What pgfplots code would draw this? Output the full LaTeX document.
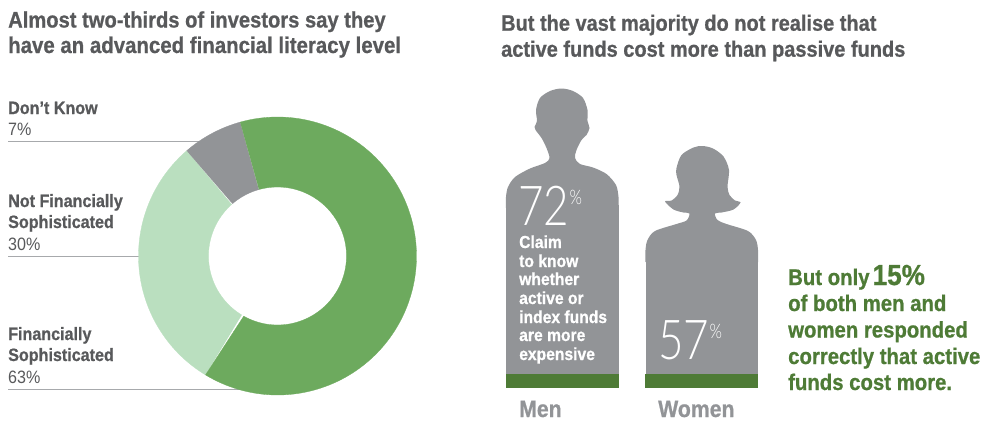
\documentclass[border=0pt]{standalone}
\usepackage{fontspec}
\usepackage{pgfplots}
\usepackage{pgfplotstable}
\pgfplotsset{compat=1.18}
\setmainfont[FakeStretch=0.90, BoldFeatures={FakeBold=0.8}]{Liberation Sans}
\newfontfamily\thinfont[FakeStretch=0.80]{Lato Light}
\definecolor{donutgreen}{HTML}{6DAA5E}
\definecolor{donutlight}{HTML}{BADFBF}
\definecolor{figgray}{HTML}{929497}
\definecolor{bargreen}{HTML}{4E7B36}
\definecolor{inkgray}{HTML}{58595B}
\definecolor{rulegray}{HTML}{A7A9AC}
\definecolor{callgreen}{HTML}{4E7B36}

% Heads and shoulders of the two figures, in page units
\pgfplotstableread{
x y
506 208
506 197
508 187
515 177
530 168.5
545 163
549.5 158
546.5 148
541.5 138
535.5 130
534.5 127
537 121
536 110
540 98
550 91
561.5 88.5
573 91
583 98
587.5 110
587.5 121
589.5 128
586.5 135
581.5 140
576.5 150
575 158
580 164
593 167.5
606.5 174
616 185
618.5 197
618.5 208
}\mantable
\pgfplotstableread{
x y
645.5 262
645.5 250
647.5 240
655 231
676.5 224
686.5 220.5
689.5 213.5
683.5 212.5
673.5 209.5
665 201.5
671.5 200.5
677.5 195
679.5 186.5
676.5 175
676.5 168
681.5 155
693.5 147.5
702.5 146
713 148.5
723.5 156.5
729 170
727.5 186.5
729.5 195
735 200.5
740.5 202.5
733.5 209.5
721.5 212.5
715 213.5
717.5 220
726.5 224
748 231
756 240
758 250
758 262
}\womantable

\newcommand{\ringslice}[3]{%
  % #1 colour, #2 start angle, #3 share in percent, running clockwise
  \addplot[draw=#1, line width=0.3pt, fill=#1, domain=0:2, samples=241, variable=\t]
    ({277.5+(\t<1 ? 139 : 69)*cos(#2-3.6*#3*(\t<1 ? \t : 2-\t))},
     {256-(\t<1 ? 139 : 69)*sin(#2-3.6*#3*(\t<1 ? \t : 2-\t))});%
}
\newcommand{\txt}[4]{\node[anchor=base west, inner sep=0pt, text=#1, font=#2] at (axis cs:#3) {#4};}

\begin{document}
\begin{tikzpicture}
\begin{axis}[
  scale only axis, width=983pt, height=421pt,
  xmin=0, xmax=983, ymin=0, ymax=421, y dir=reverse,
  hide axis, clip=false]
\path[use as bounding box] (axis cs:0,0) rectangle (axis cs:983,421);

% Leader rules under the donut labels
\addplot[rulegray, line width=0.9pt] coordinates {(8,141) (200,141)};
\addplot[rulegray, line width=0.9pt] coordinates {(8,256) (145,256)};
\addplot[rulegray, line width=0.9pt] coordinates {(8,389) (245,389)};

% Donut: 63, 30, 7 per cent clockwise from the top
\ringslice{donutlight}{-121.2}{30}
\ringslice{figgray}{-229.2}{7}
\ringslice{donutgreen}{105.6}{63}

% Figures: outline above, plain body below, green foot
\addplot[draw=none, fill=figgray, smooth, tension=0.5] table[x=x, y=y] {\mantable};
\addplot[draw=none, fill=figgray, smooth, tension=0.5] table[x=x, y=y] {\womantable};
\addplot[draw=none, fill=figgray] coordinates {(506,205) (618.5,205) (618.5,376) (506,376)} -- cycle;
\addplot[draw=none, fill=figgray] coordinates {(645.5,259) (758,259) (758,376) (645.5,376)} -- cycle;
\addplot[draw=none, fill=bargreen] coordinates {(506,374) (619,374) (619,388) (506,388)} -- cycle;
\addplot[draw=none, fill=bargreen] coordinates {(645,374) (758,374) (758,388) (645,388)} -- cycle;

% Headings
\txt{inkgray}{\bfseries\fontsize{22.4}{24}\selectfont}{8,27.5}{Almost two-thirds of investors say they}
\txt{inkgray}{\bfseries\fontsize{22.7}{24}\selectfont}{8,53}{have an advanced financial literacy level}
\txt{inkgray}{\bfseries\fontsize{22.2}{24}\selectfont}{501,30.7}{But the vast majority do not realise that}
\txt{inkgray}{\bfseries\fontsize{22.2}{24}\selectfont}{501,56.7}{active funds cost more than passive funds}

% Donut labels
\txt{inkgray}{\bfseries\fontsize{17.9}{20}\selectfont}{8,114}{Don’t Know}
\txt{inkgray}{\fontsize{17.9}{20}\selectfont}{8,135}{7\%}
\txt{inkgray}{\bfseries\fontsize{17.9}{20}\selectfont}{8,207}{Not Financially}
\txt{inkgray}{\bfseries\fontsize{17.9}{20}\selectfont}{8,228}{Sophisticated}
\txt{inkgray}{\fontsize{17.9}{20}\selectfont}{8,250}{30\%}
\txt{inkgray}{\bfseries\fontsize{17.9}{20}\selectfont}{8,340}{Financially}
\txt{inkgray}{\bfseries\fontsize{17.9}{20}\selectfont}{8,361}{Sophisticated}
\txt{inkgray}{\fontsize{17.9}{20}\selectfont}{8,383}{63\%}

% Figure captions
\txt{white}{\thinfont\fontsize{55}{55}\selectfont}{518,225}{72}
\txt{white}{\thinfont\fontsize{20}{20}\selectfont}{569.5,204}{\%}
\txt{white}{\bfseries\fontsize{17.4}{19}\selectfont}{519,248}{Claim}
\txt{white}{\bfseries\fontsize{17.4}{19}\selectfont}{519,267}{to know}
\txt{white}{\bfseries\fontsize{17.4}{19}\selectfont}{519,285}{whether}
\txt{white}{\bfseries\fontsize{17.4}{19}\selectfont}{519,304}{active or}
\txt{white}{\bfseries\fontsize{17.4}{19}\selectfont}{519,323}{index funds}
\txt{white}{\bfseries\fontsize{17.4}{19}\selectfont}{519,341}{are more}
\txt{white}{\bfseries\fontsize{17.4}{19}\selectfont}{519,360}{expensive}
\txt{white}{\thinfont\fontsize{55}{55}\selectfont}{658,359}{57}
\txt{white}{\thinfont\fontsize{20}{20}\selectfont}{709.5,338}{\%}
\txt{figgray}{\bfseries\fontsize{23.6}{24}\selectfont}{519,417}{Men}
\txt{figgray}{\bfseries\fontsize{23.6}{24}\selectfont}{658,417}{Women}

% Call-out
\txt{callgreen}{\bfseries\fontsize{22.6}{24}\selectfont}{788,285}{But only\hspace{-2.5pt} {\fontsize{29}{29}\selectfont 15\%}}
\txt{callgreen}{\bfseries\fontsize{22.6}{24}\selectfont}{788,311}{of both men and}
\txt{callgreen}{\bfseries\fontsize{22.6}{24}\selectfont}{788,337.5}{women responded}
\txt{callgreen}{\bfseries\fontsize{22.6}{24}\selectfont}{788,364}{correctly that active}
\txt{callgreen}{\bfseries\fontsize{22.6}{24}\selectfont}{788,390}{funds cost more.}
\end{axis}
\end{tikzpicture}
\end{document}
